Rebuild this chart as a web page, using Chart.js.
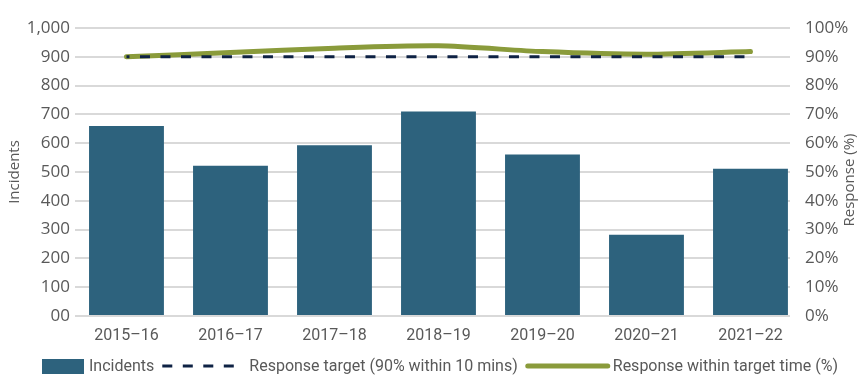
<!DOCTYPE html>
<html>
<head>
<meta charset="utf-8">
<script src="https://cdn.jsdelivr.net/npm/chart.js@4.4.1/dist/chart.umd.min.js"></script>
<style>
    html, body { margin: 0; padding: 0; background: #fff; }
    #wrap { position: relative; width: 861px; height: 376px; }
</style>
</head>
<body>
<div id="wrap"><canvas id="chart"></canvas></div>
<script>
// Dados
const categories = ['2015–16', '2016–17', '2017–18', '2018–19', '2019–20', '2020–21', '2021–22'];
const incidents = [660, 522, 593, 710, 561, 282, 511];
const responseTarget = [90, 90, 90, 90, 90, 90, 90];
const responseWithin = [90, 91.5, 93, 93.8, 91.8, 90.9, 91.8];
const incidentTicks = ['00', '100', '200', '300', '400', '500', '600', '700', '800', '900', '1,000'];
const responseTicks = ['0%', '10%', '20%', '30%', '40%', '50%', '60%', '70%', '80%', '90%', '100%'];

const TEXT = '#595959';
const NARROW = 'Roboto, sans-serif';
const REGULAR = '"Open Sans", sans-serif';

const toPoints = (arr) => arr.map((v, i) => ({ x: i, y: v }));

// Legenda desenhada à mão (amostras com larguras diferentes)
const customLegend = {
    id: 'customLegend',
    afterDraw(chart) {
        const ctx = chart.ctx;
        const y = 366;
        let x = 42;
        ctx.save();
        ctx.font = '16px ' + NARROW;
        ctx.textBaseline = 'middle';
        ctx.textAlign = 'left';
        chart.data.datasets.forEach((ds) => {
            if (ds.type === 'bar') {
                ctx.fillStyle = ds.backgroundColor;
                ctx.fillRect(x, y - 7, 42, 15);
                x += 42;
            } else {
                ctx.beginPath();
                ctx.strokeStyle = ds.borderColor;
                ctx.lineWidth = ds.borderWidth;
                ctx.lineCap = ds.borderDash ? 'butt' : 'round';
                ctx.setLineDash(ds.borderDash || []);
                const x0 = ds.borderDash ? x : x + 2;
                ctx.moveTo(x0, y);
                ctx.lineTo(x + 82, y);
                ctx.stroke();
                ctx.setLineDash([]);
                x += 82;
            }
            x += 5;
            ctx.fillStyle = TEXT;
            ctx.fillText(ds.label, x, y + 1);
            x += ctx.measureText(ds.label).width + 8;
        });
        ctx.restore();
    }
};

// Título do eixo direito, lido de baixo para cima
const rightTitle = {
    id: 'rightTitle',
    afterDraw(chart) {
        const ctx = chart.ctx;
        ctx.save();
        ctx.translate(850, (chart.chartArea.top + chart.chartArea.bottom) / 2 + 8);
        ctx.rotate(-Math.PI / 2);
        ctx.font = '15px ' + REGULAR;
        ctx.fillStyle = TEXT;
        ctx.textAlign = 'center';
        ctx.textBaseline = 'middle';
        ctx.fillText('Response (%)', 0, 0);
        ctx.restore();
    }
};

new Chart(document.getElementById('chart'), {
    data: {
        datasets: [
            {
                type: 'bar',
                label: 'Incidents',
                data: toPoints(incidents),
                backgroundColor: '#2D627D',
                categoryPercentage: 0.8,
                barPercentage: 0.9,
                yAxisID: 'y',
                order: 2
            },
            {
                type: 'line',
                label: 'Response target (90% within 10 mins)',
                data: toPoints(responseTarget),
                borderColor: '#0E2244',
                borderWidth: 3,
                borderDash: [10, 10.5],
                borderDashOffset: 7,
                pointRadius: 0,
                yAxisID: 'y1',
                order: 0
            },
            {
                type: 'line',
                label: 'Response within target time (%)',
                data: toPoints(responseWithin),
                borderColor: '#8A9B3B',
                borderWidth: 5,
                borderCapStyle: 'round',
                pointRadius: 0,
                tension: 0.25,
                yAxisID: 'y1',
                order: 1
            }
        ]
    },
    options: {
        responsive: true,
        maintainAspectRatio: false,
        animation: false,
        layout: { padding: { top: 28, bottom: 34, left: 0, right: 0 } },
        plugins: {
            legend: { display: false },
            tooltip: { enabled: false }
        },
        scales: {
            x: {
                type: 'linear',
                bounds: 'data',
                offset: false,
                min: -0.495,
                max: 6.38,
                grid: { display: false, offset: false },
                border: { display: false },
                afterBuildTicks: (s) => { s.ticks = categories.map((c, i) => ({ value: i })); },
                afterFit: (s) => { s.height = 26; },
                ticks: {
                    autoSkip: false,
                    maxRotation: 0,
                    padding: 2,
                    color: TEXT,
                    font: { family: NARROW, size: 16 },
                    callback: (v) => categories[v] ?? ''
                }
            },
            y: {
                position: 'left',
                min: 0,
                max: 1000,
                afterFit: (s) => { s.width = 75; },
                afterBuildTicks: (s) => { s.ticks = incidentTicks.map((t, i) => ({ value: i * 100 })); },
                grid: { color: '#D9D9D9', lineWidth: 2, drawTicks: false },
                border: { display: false },
                ticks: {
                    padding: 5,
                    color: TEXT,
                    font: { family: REGULAR, size: 17 },
                    callback: (v, i) => incidentTicks[i]
                },
                title: {
                    display: true,
                    text: 'Incidents',
                    color: TEXT,
                    padding: { top: 6, bottom: 0 },
                    font: { family: REGULAR, size: 15 }
                }
            },
            y1: {
                position: 'right',
                min: 0,
                max: 100,
                afterFit: (s) => { s.width = 71; },
                afterBuildTicks: (s) => { s.ticks = responseTicks.map((t, i) => ({ value: i * 10 })); },
                grid: { display: false },
                border: { display: false },
                ticks: {
                    padding: 7,
                    color: TEXT,
                    font: { family: REGULAR, size: 17 },
                    callback: (v, i) => responseTicks[i]
                }
            }
        }
    },
    plugins: [customLegend, rightTitle]
});
</script>
</body>
</html>
